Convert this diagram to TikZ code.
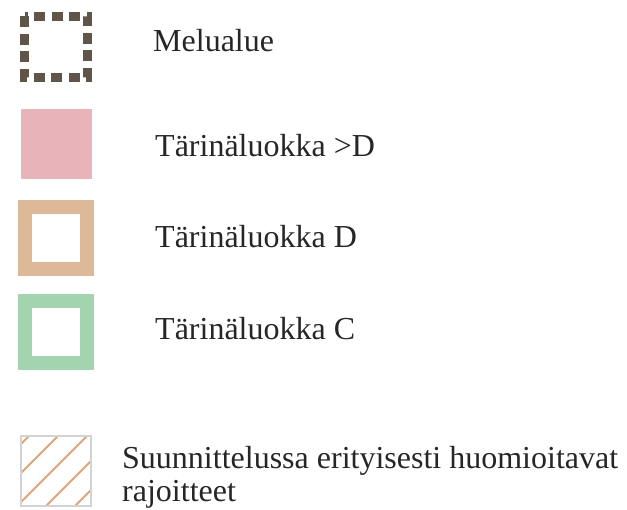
\documentclass[tikz,border=0pt]{standalone}
\usepackage{fontspec}
\setmainfont{Liberation Serif}
\definecolor{noisec}{HTML}{5F5548}
\definecolor{pinkc}{HTML}{E8B3B9}
\definecolor{tanc}{HTML}{DEB998}
\definecolor{greenc}{HTML}{A3D4B0}
\definecolor{hatchc}{HTML}{DDA57C}
\definecolor{grayc}{HTML}{D3D3D3}
\begin{document}
\begin{tikzpicture}[x=1pt,y=-1pt,
  lbl/.style={anchor=base west,inner sep=0pt,font=\fontsize{32}{33}\selectfont,text=black!85},
  framebox/.style={line width=14pt,draw=#1},
]
\useasboundingbox (0,0) rectangle (627,510);
% Melualue
\draw[noisec,line width=9pt,dash pattern=on 11pt off 6.5pt] (24.5,16.5) rectangle (87.5,77.5);
\node[lbl] (t1) at (153,52) {Melualue};
% >D
\fill[pinkc] (21,109) rectangle (92,179);
\node[lbl] (t2) at (155,157) {Tärinäluokka >D};
% D
\draw[framebox=tanc] (25,207) rectangle (87,269);
\node[lbl] (t3) at (155,248) {Tärinäluokka D};
% C
\draw[framebox=greenc] (25,301) rectangle (87,363);
\node[lbl] (t4) at (155,340) {Tärinäluokka C};
% hatch
\begin{scope}
\clip (21,436) rectangle (91,506);
\foreach \c in {465,494,523,552,581}{
  \draw[hatchc,line width=2pt] (\c-520,520) -- (\c-420,420);
}
\end{scope}
\draw[grayc,line width=2.5pt] (21,436) rectangle (91,506);
\node[lbl] (t5) at (122,469) {Suunnittelussa erityisesti huomioitavat};
\node[lbl] (t6) at (122,502) {rajoitteet};
\end{tikzpicture}
\end{document}
